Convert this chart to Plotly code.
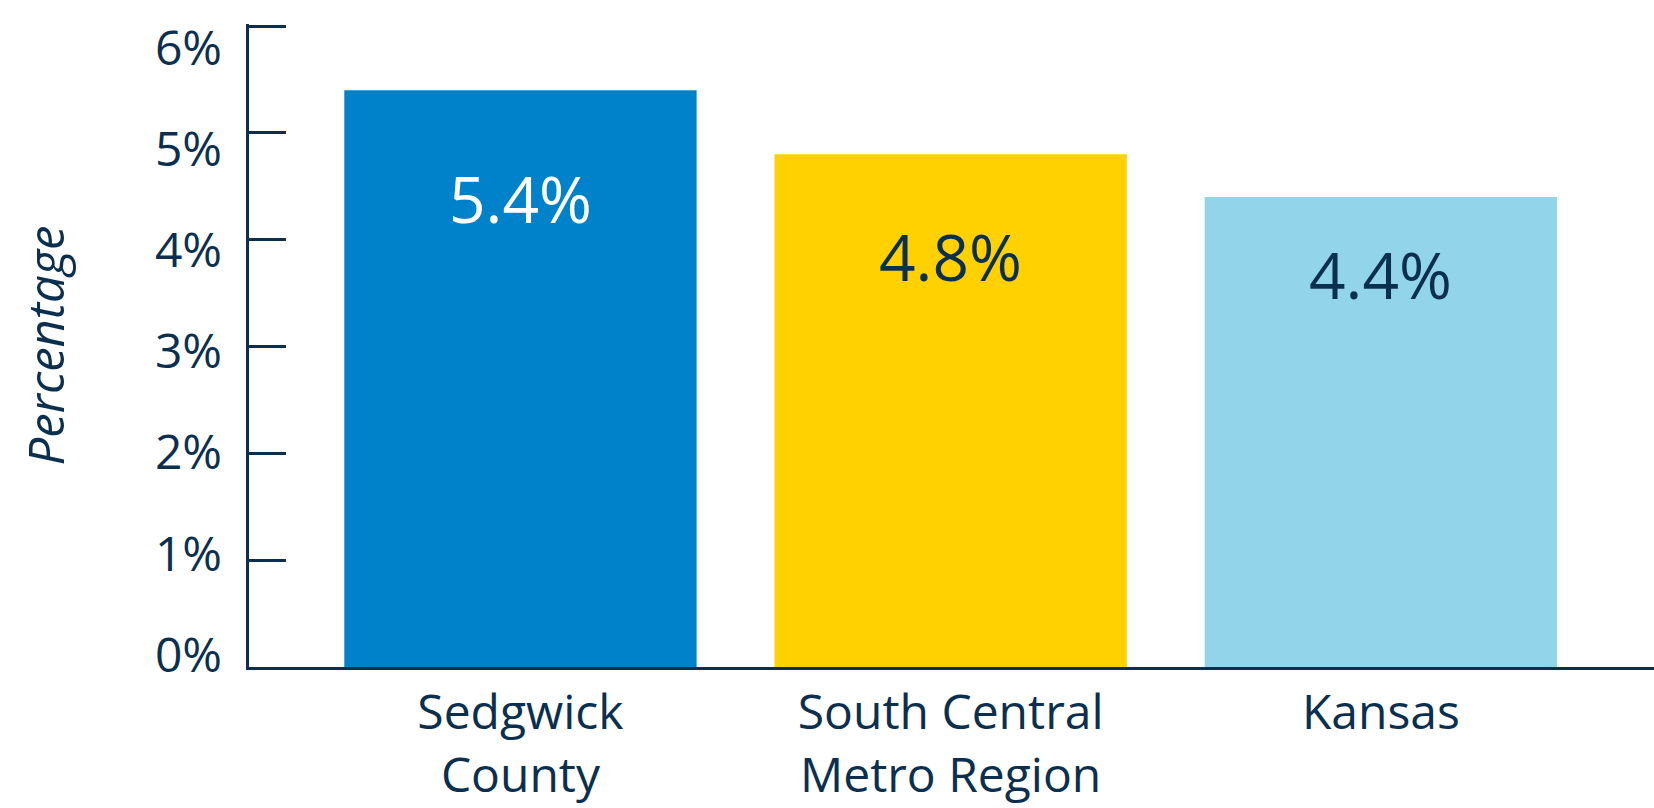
import plotly.graph_objects as go

categories = ["Sedgwick<br>County", "South Central<br>Metro Region", "Kansas"]
values = [5.4, 4.8, 4.4]
value_labels = ["5.4%", "4.8%", "4.4%"]
tick_vals = [0, 1, 2, 3, 4, 5, 6]
tick_text = ["0%", "1%", "2%", "3%", "4%", "5%", "6%"]

bar_colors = ["#0082CA", "#FFD100", "#92D5EB"]
label_colors = ["#FFFFFF", "#0B2F4F", "#0B2F4F"]
label_shift_px = [-108, -102, -77]
NAVY = "#0B2F4F"
FONT = "Open Sans"

fig = go.Figure()
fig.add_trace(go.Bar(
    x=categories, y=values,
    marker=dict(color=bar_colors, line=dict(width=0)),
    hoverinfo="skip",
))
# invisible companion trace so the tick-label axis is rendered
fig.add_trace(go.Scatter(
    x=categories, y=values, yaxis="y2", mode="none",
    hoverinfo="skip", showlegend=False,
))

for cat, v, txt, col, sh in zip(categories, values, value_labels, label_colors, label_shift_px):
    fig.add_annotation(
        x=cat, y=v, xref="x", yref="y", text=txt, showarrow=False,
        yshift=sh, yanchor="middle", xanchor="center",
        font=dict(family=FONT, size=64, color=col),
    )

fig.add_annotation(
    x=-0.1459, y=0.5, xref="paper", yref="paper", text="<i>Percentage</i>",
    textangle=-90, showarrow=False, xanchor="center", yanchor="middle",
    font=dict(family=FONT, size=49, color=NAVY),
)

fig.update_layout(
    width=1654, height=808,
    margin=dict(l=249, r=0, t=24, b=141),
    paper_bgcolor="white", plot_bgcolor="white",
    bargap=0.181,
    showlegend=False,
    font=dict(family=FONT, color=NAVY),
    xaxis=dict(
        range=[-0.631, 2.635],
        showline=True, linecolor=NAVY, linewidth=2.5,
        ticks="", showgrid=False, zeroline=False,
        tickfont=dict(family=FONT, size=48, color=NAVY),
        layer="below traces",
        ticklabelstandoff=2,
        automargin=False,
    ),
    yaxis=dict(
        range=[0, 6.02],
        tickvals=tick_vals,
        showticklabels=False,
        showline=True, linecolor=NAVY, linewidth=2.5,
        ticks="inside", ticklen=37, tickwidth=2.5, tickcolor=NAVY,
        showgrid=False, zeroline=False,
        layer="below traces",
        automargin=False,
    ),
    yaxis2=dict(
        overlaying="y", side="left", anchor="x",
        range=[-0.1186, 6.2372],
        tickvals=tick_vals, ticktext=tick_text,
        showline=False, ticks="", showgrid=False, zeroline=False,
        tickfont=dict(family=FONT, size=48, color=NAVY),
        ticklabelstandoff=26,
        ticklabeloverflow="allow",
        automargin=False,
    ),
)

fig.write_html("out.html", post_script="document.body.style.margin='0';",
               config={"displayModeBar": False})
